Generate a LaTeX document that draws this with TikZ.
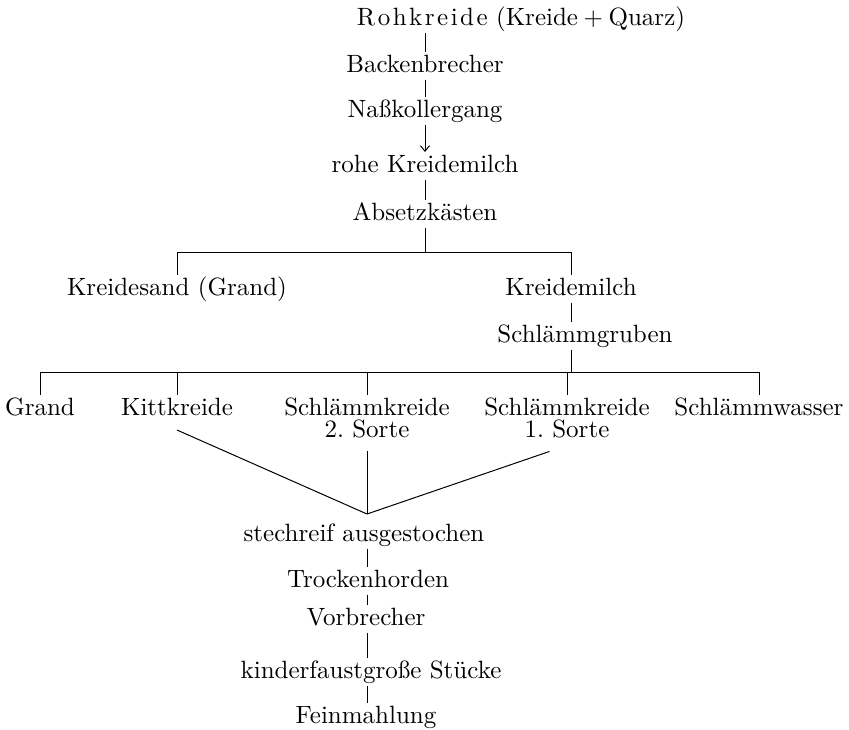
\documentclass[tikz,border=0pt]{standalone}
\usetikzlibrary{arrows.meta}
\begin{document}
\begin{tikzpicture}[x=0.4pt,y=-0.4pt,
  every path/.style={line width=0.4pt},
  lbl/.style={anchor=base,inner xsep=0pt,inner ysep=1pt,outer sep=0pt,
    text height=7pt,text depth=2pt,font=\fontsize{10}{12}\selectfont},
  twoline/.style={anchor=north,inner xsep=0pt,inner ysep=1pt,outer sep=0pt,
    align=center,font=\fontsize{10}{8.8}\selectfont},
  flowarrow/.style={-{Straight Barb[length=2.2pt,width=3.6pt]}}]
\useasboundingbox (0,0) rectangle (849,729);

% main chain from the raw chalk down to the settling tanks
\node[lbl] (roh) at (521,25) {R\kern1pt o\kern1pt h\kern1pt k\kern1pt r\kern1pt e\kern1pt i\kern1pt d\kern1pt e (Kreide${}+{}$Quarz)};
\node[lbl] (bb)  at (425,72)  {Backenbrecher};
\node[lbl] (nk)  at (425,117) {Naßkollergang};
\node[lbl] (rk)  at (425,172) {rohe Kreidemilch};
\node[lbl] (ab)  at (425,220) {Absetzkästen};

% first split
\coordinate (split1) at (425,252);
\node[lbl] (ks) at (177,295) {Kreidesand (Grand)};
\node[lbl] (km) at (571,295) {Kreidemilch};
\node[lbl] (sg) at (585,342) {Schlämmgruben};

% second split
\coordinate (split2) at (571,372);
\node[lbl] (gr) at (40,415)  {Grand};
\node[lbl] (kk) at (177,415) {Kittkreide};
\node[twoline] (s2) at (367,395) {Schlämmkreide\\2.\ Sorte};
\node[twoline] (s1) at (567,395) {Schlämmkreide\\1.\ Sorte};
\node[lbl] (sw) at (759,415) {Schlämmwasser};

% merging and final treatment
\coordinate (meet) at (367,514);
\node[lbl] (st) at (364,541) {stechreif ausgestochen};
\node[lbl] (tr) at (368,587) {Trockenhorden};
\node[lbl] (vb) at (366,625) {Vorbrecher};
\node[lbl] (ki) at (371,678) {kinderfaustgroße Stücke};
\node[lbl] (fm) at (366,723) {Feinmahlung};

% connectors of the main chain
\draw (bb.north |- roh.south) -- (bb.north);
\draw (bb.south) -- (nk.north);
\draw[flowarrow] (nk.south) -- (rk.north);
\draw (rk.south) -- (ab.north);
\draw (ab.south) -- (split1);

% first branching
\draw (ks.north |- split1) -- (km.north |- split1);
\draw (ks.north |- split1) -- (ks.north);
\draw (km.north |- split1) -- (km.north);
\draw (km.south) -- (km.south |- sg.north);
\draw (km.south |- sg.south) -- (split2);

% second branching
\draw (gr.north |- split2) -- (sw.north |- split2);
\foreach \n in {gr,kk,s2,s1,sw}
  \draw (\n.north |- split2) -- (\n.north);

% three products merge
\draw ([yshift=-3pt]kk.south) -- (meet);
\draw ([yshift=-4.5pt]s2.south) -- (meet);
\draw ([xshift=-7pt,yshift=-4.5pt]s1.south) -- (meet);

% final chain
\draw (meet |- st.south) -- (meet |- tr.north);
\draw (meet |- tr.south) -- (meet |- vb.north);
\draw (meet |- vb.south) -- (meet |- ki.north);
\draw (meet |- ki.south) -- (meet |- fm.north);
\end{tikzpicture}
\end{document}
